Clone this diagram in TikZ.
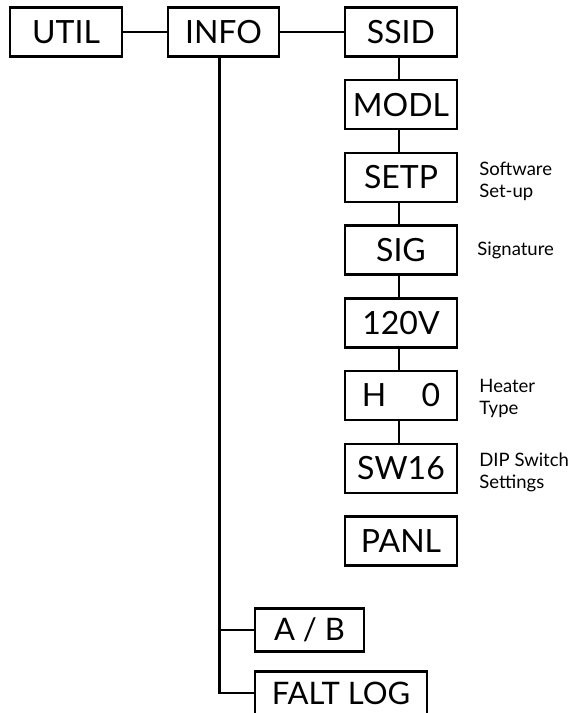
\documentclass[tikz,border=0pt]{standalone}
\usepackage{fontspec}
\setmainfont{Lato}
\usetikzlibrary{positioning}

\begin{document}
\begin{tikzpicture}[x=1pt, y=-1pt, line width=2.4pt,
    menubox/.style={draw, minimum width=112pt, minimum height=49pt, inner sep=0pt,
        font=\fontsize{32}{36}\selectfont},
    subbox/.style={draw, minimum height=43pt, inner sep=0pt,
        font=\fontsize{31}{36}\selectfont},
    note/.style={align=left, inner sep=0pt, font=\fontsize{18.5}{22}\selectfont}]

    % page size of the reference
    \useasboundingbox (0,0) rectangle (571,713);
    \clip (0,0) rectangle (571,713);

    % 1. Top row
    \node[menubox] (util) at (66,32) {UTIL};
    \node[menubox, minimum width=111pt] (info) at (223.5,32) {INFO};
    \node[menubox] (ssid) at (401,32) {SSID};

    % 2. Column under SSID
    \node[menubox, below=21.3pt of ssid] (modl) {MODL};
    \node[menubox, below=21.3pt of modl] (setp) {SETP};
    \node[menubox, below=21.3pt of setp] (sig) {SIG};
    \node[menubox, below=21.3pt of sig] (v120) {120V};
    \node[menubox, below=21.3pt of v120] (heat) {H\hspace{1.1em}0};
    \node[menubox, below=21.3pt of heat] (sw16) {SW16};
    \node[menubox, below=21.3pt of sw16] (panl) {PANL};

    % 3. Side notes
    \node[note, right=20pt of setp, yshift=-4pt] (setpnote) {Software\\Set-up};
    \node[note, right=18pt of sig] (signote) {Signature};
    \node[note, right=20pt of heat, yshift=-3pt] (heatnote) {Heater\\Type};
    \node[note, right=20pt of sw16, yshift=-4pt] (swnote) {DIP Switch\\Settings};

    % 4. Boxes under INFO
    \node[subbox, minimum width=109pt] (ab) at (309.5,630) {A / B};
    \node[subbox, minimum width=172pt] (falt) at (341,693) {FALT LOG};

    % 5. Connectors
    \draw (util.east) -- (info.west);
    \draw (info.east) -- (ssid.west);
    \foreach \a/\b in {ssid/modl, modl/setp, setp/sig, sig/v120, v120/heat, heat/sw16}
        \draw ([xshift=-2pt]\a.south) -- ([xshift=-2pt]\b.north);
    \draw ([xshift=-4pt]info.south) |- (ab.west);
    \draw ([xshift=-4pt]info.south) |- (falt.west);

\end{tikzpicture}
\end{document}
